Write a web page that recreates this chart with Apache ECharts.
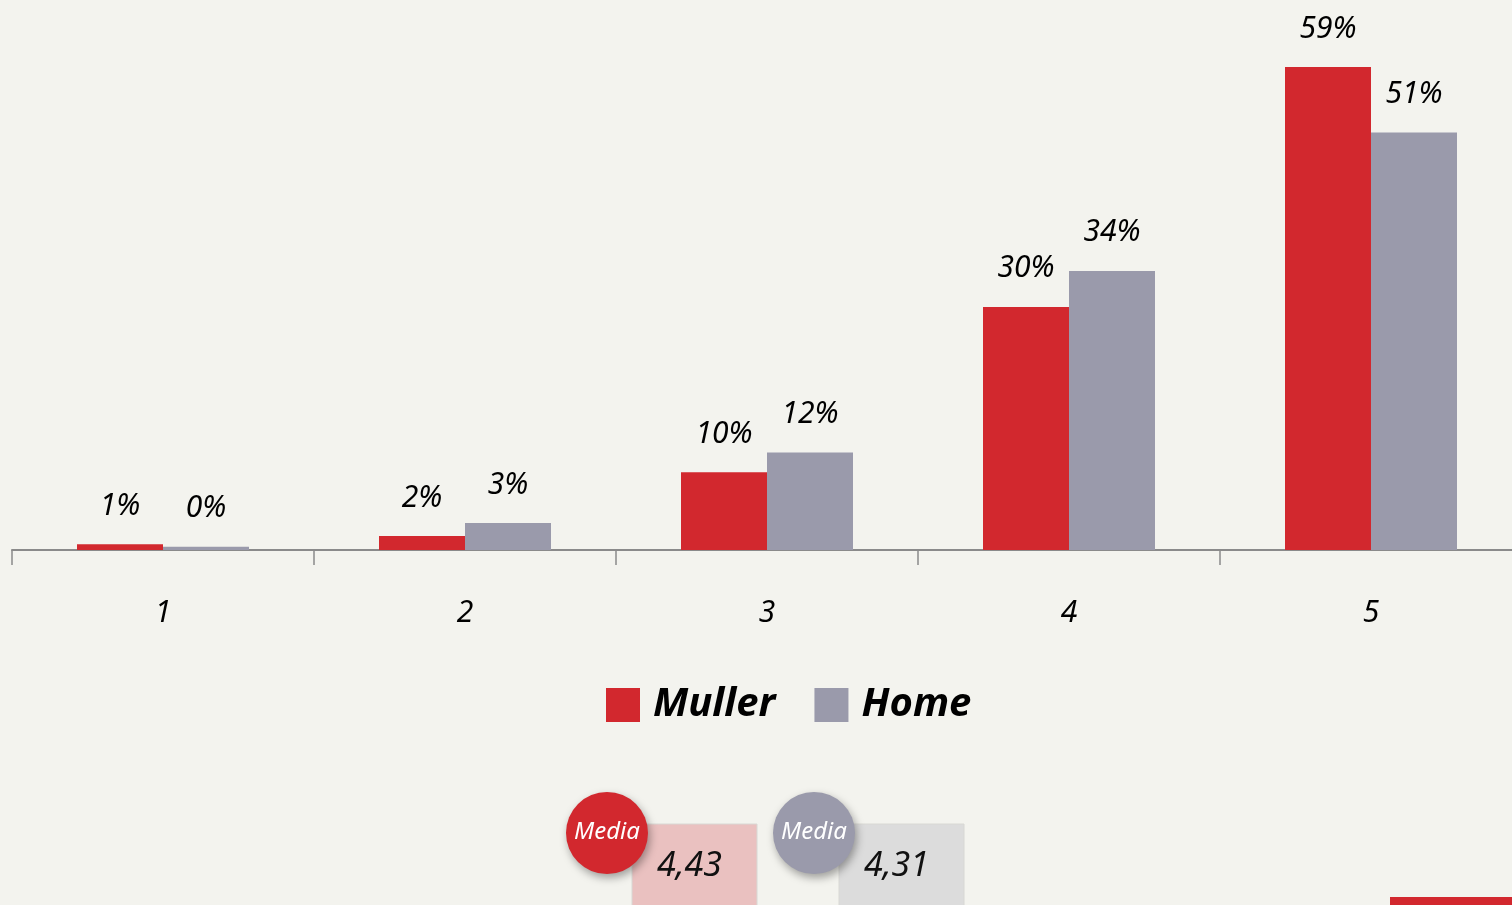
<!DOCTYPE html>
<html>
<head>
<meta charset="utf-8">
<script src="https://cdn.jsdelivr.net/npm/echarts@6/dist/echarts.min.js"></script>
<style>
  html, body { margin: 0; padding: 0; background: #f3f3ee; overflow: hidden; }
  #main { width: 1522px; height: 905px; }
</style>
</head>
<body>
<div id="main"></div>
<script>
var categories = ['1', '2', '3', '4', '5'];
var mullerValues = [0.7, 1.7, 9.5, 29.7, 59.0];
var homeValues = [0.4, 3.3, 11.9, 34.1, 51.0];
var seriesNames = ['Muller', 'Home'];
var mediaValues = ['4,43', '4,31'];

var RED = '#d2282e';
var GRAY = '#9a9aab';
var FONT = 'Noto Sans';

var myChart = echarts.init(document.getElementById('main'));

function pctLabel(p) {
    return Math.round(p.value) + '%';
}

// media badges under the legend
function mediaBadge(x, color, boxColor, text) {
    return [{
        type: 'rect',
        shape: { x: x + 25, y: 824, width: 125, height: 90 },
        style: { fill: boxColor, stroke: '#d8d8d4', lineWidth: 1 }
    }, {
        type: 'text',
        x: x + 50,
        y: 866,
        style: {
            text: text, fill: '#111', font: 'italic 34px ' + FONT,
            verticalAlign: 'middle'
        }
    }, {
        type: 'circle',
        shape: { cx: x, cy: 833, r: 41 },
        style: {
            fill: color, shadowBlur: 8, shadowOffsetX: 2, shadowOffsetY: 4,
            shadowColor: 'rgba(0,0,0,0.35)'
        }
    }, {
        type: 'text',
        x: x,
        y: 832,
        style: {
            text: 'Media', fill: '#fff', font: 'italic 24px ' + FONT,
            align: 'center', verticalAlign: 'middle'
        }
    }];
}

option = {
    backgroundColor: '#f3f3ee',
    animation: false,
    grid: {
        left: 12,
        right: 0,
        top: 18,
        bottom: 355
    },
    legend: {
        data: seriesNames,
        left: 601,
        top: 680,
        itemWidth: 34,
        itemHeight: 34,
        itemGap: 39,
        icon: 'rect',
        textStyle: {
            fontFamily: FONT,
            fontStyle: 'italic',
            fontWeight: 'bold',
            fontSize: 40,
            color: '#000',
            padding: [0, 0, 0, 8]
        }
    },
    xAxis: {
        type: 'category',
        data: categories,
        axisLine: { lineStyle: { color: '#8a8a8a', width: 2 } },
        axisTick: { show: true, length: 15, lineStyle: { color: '#8a8a8a', width: 1.5 } },
        axisLabel: {
            margin: 48,
            fontFamily: FONT,
            fontStyle: 'italic',
            fontSize: 30,
            color: '#000'
        }
    },
    yAxis: {
        type: 'value',
        min: 0,
        max: 65,
        show: false,
        splitLine: { show: false }
    },
    series: [{
        name: seriesNames[0],
        type: 'bar',
        data: mullerValues,
        barWidth: 86,
        barGap: '0%',
        itemStyle: { color: RED },
        label: {
            show: true,
            position: 'top',
            distance: 23,
            formatter: pctLabel,
            fontFamily: FONT,
            fontStyle: 'italic',
            fontSize: 30,
            color: '#000'
        }
    }, {
        name: seriesNames[1],
        type: 'bar',
        data: homeValues,
        barWidth: 86,
        barGap: '0%',
        itemStyle: { color: GRAY },
        label: {
            show: true,
            position: 'top',
            distance: 23,
            formatter: pctLabel,
            fontFamily: FONT,
            fontStyle: 'italic',
            fontSize: 30,
            color: '#000'
        }
    }],
    graphic: mediaBadge(607, RED, '#eac1c0', mediaValues[0])
        .concat(mediaBadge(814, GRAY, '#dcdcdc', mediaValues[1]))
        .concat([{
            type: 'rect',
            shape: { x: 1390, y: 897, width: 130, height: 10 },
            style: { fill: RED }
        }])
};
myChart.setOption(option);
</script>
</body>
</html>
